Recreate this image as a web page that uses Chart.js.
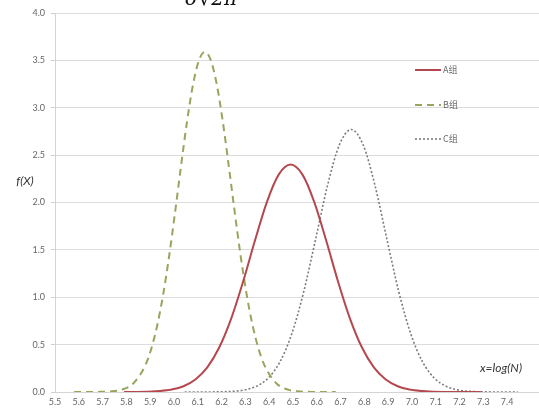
<!DOCTYPE html>
<html>
<head>
<meta charset="utf-8">
<script src="https://cdn.jsdelivr.net/npm/chart.js@4.4.0/dist/chart.umd.min.js"></script>
<style>
  html, body { margin: 0; padding: 0; background: #fff; }
  #wrap { width: 539px; height: 411px; position: relative; }
</style>
</head>
<body>
<div id="wrap"><canvas id="chart" width="539" height="411"></canvas></div>
<script>
// values
const xA = [5.79, 5.84, 5.89, 5.94, 5.99, 6.04, 6.09, 6.14, 6.19, 6.24, 6.29, 6.34, 6.39, 6.44, 6.49, 6.54, 6.59, 6.64, 6.69, 6.74, 6.79, 6.84, 6.89, 6.94, 6.99, 7.04, 7.09, 7.14, 7.19, 7.24, 7.29];
const yA = [0.0003, 0.0011, 0.0035, 0.0099, 0.0257, 0.0609, 0.132, 0.26, 0.469, 0.772, 1.161, 1.596, 2.002, 2.294, 2.4, 2.294, 2.002, 1.596, 1.161, 0.772, 0.469, 0.26, 0.132, 0.0609, 0.0257, 0.0099, 0.0035, 0.0011, 0.0003, 0.0001, 0];

const xB = [5.58, 5.63, 5.68, 5.73, 5.78, 5.83, 5.88, 5.905, 5.93, 5.955, 5.98, 6.005, 6.03, 6.055, 6.08, 6.105, 6.13, 6.155, 6.18, 6.205, 6.23, 6.255, 6.28, 6.305, 6.33, 6.355, 6.38, 6.43, 6.48, 6.53, 6.58, 6.63, 6.68];
const yB = [0, 0.0001, 0.001, 0.0054, 0.0248, 0.0929, 0.284, 0.46, 0.708, 1.035, 1.44, 1.904, 2.392, 2.857, 3.244, 3.5, 3.59, 3.5, 3.244, 2.857, 2.392, 1.904, 1.44, 1.035, 0.708, 0.46, 0.284, 0.0929, 0.0248, 0.0054, 0.001, 0.0001, 0];

const xC = [6.045, 6.095, 6.145, 6.195, 6.245, 6.295, 6.345, 6.395, 6.445, 6.495, 6.545, 6.595, 6.645, 6.695, 6.745, 6.795, 6.845, 6.895, 6.945, 6.995, 7.045, 7.095, 7.145, 7.195, 7.245, 7.295, 7.345, 7.395, 7.445];
const yC = [0, 0.0001, 0.0005, 0.0019, 0.0067, 0.021, 0.0585, 0.1444, 0.316, 0.614, 1.056, 1.61, 2.177, 2.608, 2.77, 2.608, 2.177, 1.61, 1.056, 0.614, 0.316, 0.1444, 0.0585, 0.021, 0.0067, 0.0019, 0.0005, 0.0001, 0];

const seriesNames = ["A组", "B组", "C组"];
const xTickMin = 5.5;
const xTickMax = 7.4;
const yTicksMax = 4.0;

const colors = ["#b5474e", "#9ba35c", "#7c7c7c"];
const dashes = [[], [7, 5], [2, 2]];
const widths = [2, 2, 1.6];

const toPoints = (xs, ys) => xs.map((x, i) => ({ x: x, y: ys[i] }));
const allSeries = [toPoints(xA, yA), toPoints(xB, yB), toPoints(xC, yC)];

const tickFont = { family: "Lato, 'Liberation Sans', sans-serif", size: 9 };

const overlay = {
  id: "overlay",
  afterDraw(chart) {
    const ctx = chart.ctx;
    ctx.save();

    // legend, stacked down the right side
    const legendY = [70, 105, 139];
    seriesNames.forEach((name, i) => {
      ctx.strokeStyle = colors[i];
      ctx.lineWidth = widths[i];
      ctx.setLineDash(dashes[i]);
      ctx.beginPath();
      ctx.moveTo(415, legendY[i]);
      ctx.lineTo(441, legendY[i]);
      ctx.stroke();
      ctx.setLineDash([]);
      ctx.fillStyle = "#6a6a6a";
      ctx.font = "9px 'Noto Sans CJK SC', sans-serif";
      ctx.textAlign = "left";
      ctx.textBaseline = "middle";
      ctx.fillText(name, 443, legendY[i]);
    });

    ctx.fillStyle = "#333";
    ctx.font = "italic 12px Lato, sans-serif";
    ctx.textAlign = "center";
    ctx.textBaseline = "middle";
    ctx.fillText("f(X)", 25, 181);
    ctx.fillText("x=log(N)", 501, 368);

    // bottom of the formula cut off above the chart
    ctx.fillStyle = "#111";
    ctx.font = "italic 20px 'DejaVu Serif', serif";
    ctx.textBaseline = "alphabetic";
    ctx.fillText("σ√2π", 211, 5);
    ctx.restore();
  }
};

new Chart(document.getElementById("chart"), {
  type: "line",
  data: {
    datasets: allSeries.map((pts, i) => ({
      label: seriesNames[i],
      data: pts,
      borderColor: colors[i],
      borderWidth: widths[i],
      borderDash: dashes[i],
      pointRadius: 0,
      fill: false,
      cubicInterpolationMode: "monotone",
    })),
  },
  options: {
    responsive: false,
    animation: false,
    layout: { padding: { top: 13, right: 0, left: 0, bottom: 0 } },
    plugins: {
      legend: { display: false },
      tooltip: { enabled: false },
    },
    scales: {
      x: {
        type: "linear",
        min: xTickMin,
        max: 7.534,
        afterFit: (s) => { s.height = 19; },
        afterBuildTicks: (s) => {
          const t = [];
          for (let v = 55; v <= 74; v++) t.push({ value: v / 10 });
          s.ticks = t;
        },
        grid: { display: false, drawTicks: false },
        border: { color: "#d4d4d4", width: 1 },
        ticks: {
          font: tickFont,
          color: "#666",
          padding: 5,
          maxRotation: 0,
          autoSkip: false,
          callback: (v) => (v <= xTickMax + 0.001 ? v.toFixed(1) : ""),
        },
      },
      y: {
        min: 0,
        max: yTicksMax,
        afterFit: (s) => { s.width = 55; },
        grid: { color: "#dcdcdc", lineWidth: 1, tickLength: 4, tickColor: "#cfcfcf" },
        border: { color: "#d4d4d4", width: 1 },
        ticks: {
          stepSize: 0.5,
          font: tickFont,
          color: "#666",
          padding: 6,
          callback: (v) => v.toFixed(1),
        },
      },
    },
  },
  plugins: [overlay],
});
</script>
</body>
</html>
